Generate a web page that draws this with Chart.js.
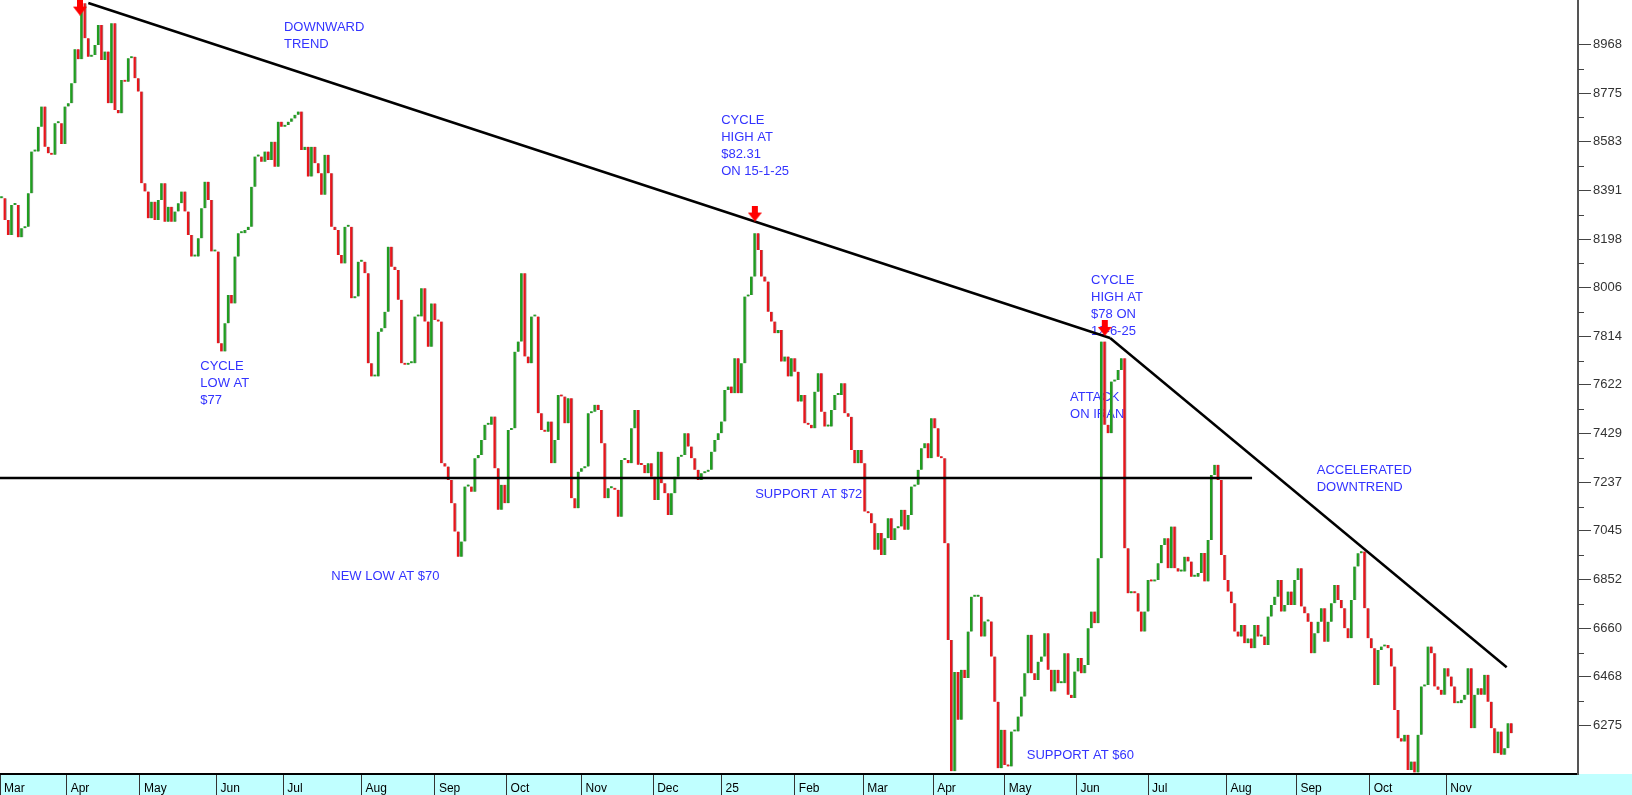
<!DOCTYPE html>
<html>
<head>
<meta charset="utf-8">
<script src="https://cdn.jsdelivr.net/npm/chart.js@4.4.1/dist/chart.umd.min.js"></script>
<style>
  html, body { margin: 0; padding: 0; background: #fff; }
  canvas { display: block; }
</style>
</head>
<body>
<canvas id="graficoPreco" width="1632" height="795" style="width:1632px;height:795px"></canvas>
<script>
// fechamentos diarios (escala do eixo: 8968 = $89.68)
const fechMarAgo24 = [
  8359, 8274, 8214, 8333, 8333, 8205, 8241, 8247, 8379, 8544,
  8544, 8642, 8722, 8563, 8537, 8531, 8656, 8656, 8574, 8722,
  8735, 8814, 8948, 8909, 9130, 8992, 8919, 8926, 8965, 9044,
  8906, 8939, 8735, 9051, 8708, 8695, 8827, 8820, 8913, 8919,
  8834, 8781, 8419, 8386, 8280, 8346, 8274, 8353, 8419, 8267,
  8326, 8267, 8307, 8340, 8386, 8307, 8214, 8129, 8129, 8201,
  8320, 8425, 8353, 8149, 8149, 7786, 7754, 7865, 7977, 7944,
  8129, 8221, 8221, 8234, 8247, 8405, 8524, 8524, 8504, 8544,
  8511, 8583, 8484, 8662, 8642, 8649, 8662, 8675, 8689, 8702,
  8550, 8563, 8445, 8563, 8498, 8458, 8373, 8531, 8458
];
const fechAgoDez24 = [
  8247, 8234, 8135, 8102, 8247, 8247, 7964, 7971, 8109, 8109,
  8063, 7707, 7655, 7655, 7832, 7846, 7911, 8168, 8089, 8076,
  7958, 7707, 7701, 7707, 7707, 7892, 7892, 8004, 7872, 7773,
  7944, 7878, 7872, 7312, 7299, 7246, 7154, 7042, 6943, 7003,
  7220, 7220, 7200, 7332, 7345, 7404, 7464, 7464, 7497, 7292,
  7128, 7227, 7154, 7444, 7450, 7753, 7793, 8063, 7734, 7707,
  7892, 7892, 7510, 7444, 7437, 7477, 7312, 7404, 7582, 7576,
  7470, 7569, 7174, 7134, 7279, 7292, 7299, 7510, 7516, 7543,
  7523, 7391, 7174, 7213, 7213, 7207, 7101, 7325, 7325, 7312,
  7450, 7523, 7306
];
const fechDezAbr25 = [
  7305, 7273, 7312, 7259, 7167, 7358, 7233, 7194, 7108, 7194,
  7259, 7338, 7345, 7431, 7378, 7332, 7286, 7246, 7273, 7279,
  7286, 7358, 7404, 7431, 7477, 7602, 7615, 7589, 7727, 7589,
  7707, 7971, 7977, 8050, 8221, 8155, 8050, 8030, 7911, 7872,
  7826, 7839, 7714, 7734, 7655, 7727, 7674, 7556, 7582, 7470,
  7464, 7450, 7595, 7668, 7516, 7457, 7457, 7523, 7582, 7582,
  7628, 7510, 7496, 7365, 7312, 7365, 7312, 7121, 7115, 7075,
  6970, 7036, 6950, 7016, 7095, 7009, 7055, 7062, 7128, 7049,
  7108, 7220, 7227, 7286, 7371, 7391, 7332, 7490, 7450, 7338,
  7332, 6996, 6614, 6095, 6487, 6298
];
const fechAbrAgo25 = [
  6496, 6463, 6647, 6785, 6785, 6785, 6627, 6687, 6687, 6548,
  6370, 6107, 6259, 6120, 6114, 6252, 6252, 6311, 6390, 6482,
  6634, 6482, 6456, 6528, 6548, 6640, 6496, 6410, 6496, 6443,
  6443, 6561, 6397, 6384, 6489, 6542, 6482, 6515, 6660, 6726,
  6680, 6937, 7793, 7464, 7431, 7635, 7641, 7681, 7727, 6976,
  6798, 6805, 6798, 6726, 6647, 6726, 6851, 6845, 6851, 6917,
  6989, 7016, 6897, 7062, 6897, 6884, 6884, 6943, 6924, 6864,
  6864, 6878, 6957, 6845, 7009, 7266, 7306, 7246, 6950, 6851,
  6805, 6759, 6647, 6627, 6673, 6601, 6620
];
const fechAgoNov25 = [
  6581, 6673, 6627, 6627, 6594, 6706, 6752, 6785, 6851, 6726,
  6752, 6805, 6752, 6851, 6897, 6746, 6719, 6686, 6561, 6640,
  6686, 6739, 6607, 6686, 6759, 6831, 6772, 6739, 6660, 6621,
  6772, 6904, 6956, 6963, 6739, 6621, 6581, 6436, 6574, 6588,
  6594, 6581, 6509, 6337, 6225, 6212, 6239, 6100, 6133, 6090,
  6239, 6430, 6436, 6588, 6561, 6430, 6417, 6397, 6502, 6469,
  6430, 6364, 6364, 6377, 6397, 6502, 6265, 6397, 6423, 6397,
  6476, 6370, 6265, 6166, 6252, 6160, 6186, 6285, 6245
];

const mesesRotulos = ['Mar', 'Apr', 'May', 'Jun', 'Jul', 'Aug', 'Sep', 'Oct', 'Nov', 'Dec', '25',
  'Feb', 'Mar', 'Apr', 'May', 'Jun', 'Jul', 'Aug', 'Sep', 'Oct', 'Nov'];
const mesesInicio = [-0.5, 19.5, 41.5, 64.5, 84.5, 108, 130, 151.5, 174, 195.5, 216,
  238, 258.5, 279.5, 301, 322.5, 344, 367.5, 388.5, 410.5, 433.5];
const ticksY = [8968, 8775, 8583, 8391, 8198, 8006, 7814, 7622, 7429, 7237, 7045, 6852, 6660, 6468, 6275];

// linhas desenhadas no grafico (dia, valor)
const linhaTendencia = [{ x: 26, y: 9131 }, { x: 332.6, y: 7807 }];
const linhaAcelerada = [{ x: 332.6, y: 7807 }, { x: 451.6, y: 6506 }];
const linhaSuporte = [{ x: -0.5, y: 7254 }, { x: 375.2, y: 7254 }];
const setas = [{ x: 23.5, y: 9113 }, { x: 226, y: 8299 }, { x: 331, y: 7847 }];

const notas = [
  { d: 84.7, v: 9019, linhas: ['DOWNWARD', 'TREND'] },
  { d: 215.9, v: 8651, linhas: ['CYCLE', 'HIGH AT', '$82.31', 'ON 15-1-25'] },
  { d: 59.6, v: 7682, linhas: ['CYCLE', 'LOW AT', '$77'] },
  { d: 98.9, v: 6850, linhas: ['NEW LOW AT $70'] },
  { d: 226.1, v: 7176, linhas: ['SUPPORT AT $72'] },
  { d: 326.9, v: 8022, linhas: ['CYCLE', 'HIGH AT', '$78 ON', '12-6-25'] },
  { d: 320.6, v: 7558, linhas: ['ATTACK', 'ON IRAN'] },
  { d: 307.6, v: 6142, linhas: ['SUPPORT AT $60'] },
  { d: 394.6, v: 7268, linhas: ['ACCELERATED', 'DOWNTREND'] }
];

const fechamentos = [].concat(fechMarAgo24, fechAgoDez24, fechDezAbr25, fechAbrAgo25, fechAgoNov25);

const barras = fechamentos.map((v, i) => ({ x: i, y: [i ? fechamentos[i - 1] : v, v] }));
const coresBarras = fechamentos.map((v, i) => (i && v < fechamentos[i - 1]) ? '#e8151b' : '#1f9e1f');

function criarSeta() {
  const c = document.createElement('canvas');
  c.width = 14; c.height = 16;
  const g = c.getContext('2d');
  g.fillStyle = '#ff0000';
  g.fillRect(4, 0, 6, 8);
  g.beginPath();
  g.moveTo(0, 7); g.lineTo(14, 7); g.lineTo(7, 16);
  g.closePath();
  g.fill();
  return c;
}

function semPadding(s) {
  s.paddingLeft = 0;
  s.paddingRight = 0;
  s.paddingTop = 0;
  s.paddingBottom = 0;
}

const fundo = {
  id: 'fundo',
  beforeDraw(chart) {
    const { ctx, width, height, chartArea } = chart;
    ctx.save();
    ctx.fillStyle = '#ffffff';
    ctx.fillRect(0, 0, width, height);
    ctx.fillStyle = '#c0ffff';
    ctx.fillRect(0, chartArea.bottom, width, height - chartArea.bottom);
    ctx.restore();
  }
};

const tracosMenores = {
  id: 'tracosMenores',
  afterDraw(chart) {
    const eixo = chart.scales.y;
    const ctx = chart.ctx;
    ctx.save();
    ctx.strokeStyle = '#444';
    ctx.lineWidth = 1;
    for (let i = 0; i < ticksY.length - 1; i++) {
      const py = Math.round(eixo.getPixelForValue((ticksY[i] + ticksY[i + 1]) / 2)) + 0.5;
      ctx.beginPath();
      ctx.moveTo(eixo.left, py);
      ctx.lineTo(eixo.left + 6, py);
      ctx.stroke();
    }
    ctx.restore();
  }
};

const textos = {
  id: 'textos',
  beforeDatasetsDraw(chart) {
    const ctx = chart.ctx;
    const ex = chart.scales.x, ey = chart.scales.y;
    ctx.save();
    ctx.fillStyle = '#3333ff';
    ctx.font = '13px "Liberation Sans", Arial, sans-serif';
    ctx.textBaseline = 'alphabetic';
    ctx.textAlign = 'left';
    notas.forEach((n) => {
      const px = ex.getPixelForValue(n.d);
      const py = ey.getPixelForValue(n.v);
      n.linhas.forEach((t, k) => ctx.fillText(t, px, py + k * 17));
    });
    ctx.restore();
  }
};

const idGrafico = document.getElementById('graficoPreco').getContext('2d');

const graficoClasse = new Chart(idGrafico, {
  type: 'bar',
  data: {
    datasets: [
      {
        type: 'line',
        data: setas,
        showLine: false,
        pointStyle: criarSeta(),
        pointRadius: 8,
        clip: false,
        order: 0
      },
      {
        type: 'line',
        data: linhaTendencia,
        borderColor: '#000',
        borderWidth: 2.5,
        pointRadius: 0,
        order: 1
      },
      {
        type: 'line',
        data: linhaAcelerada,
        borderColor: '#000',
        borderWidth: 2.5,
        pointRadius: 0,
        order: 1
      },
      {
        type: 'line',
        data: linhaSuporte,
        borderColor: '#000',
        borderWidth: 2.5,
        pointRadius: 0,
        order: 1
      },
      {
        type: 'bar',
        data: barras,
        backgroundColor: coresBarras,
        borderColor: '#9a9a9a',
        borderWidth: { top: 0, right: 1, bottom: 0, left: 0 },
        borderSkipped: false,
        barThickness: 3,
        minBarLength: 2,
        order: 2
      }
    ]
  },
  options: {
    responsive: false,
    animation: false,
    events: [],
    layout: { padding: 0, autoPadding: false },
    plugins: {
      legend: { display: false },
      tooltip: { enabled: false }
    },
    scales: {
      x: {
        type: 'linear',
        min: -0.5,
        max: 473,
        offset: false,
        grid: { offset: false, drawOnChartArea: false, drawTicks: true, tickLength: 21, color: '#333', lineWidth: 1 },
        border: { display: true, color: '#000', width: 2 },
        ticks: {
          autoSkip: false,
          maxRotation: 0,
          align: 'start',
          labelOffset: 4,
          padding: -14,
          color: '#000',
          font: { family: 'Liberation Sans', size: 12 },
          callback: (v, i) => mesesRotulos[i]
        },
        afterBuildTicks: (s) => { s.ticks = mesesInicio.map((v) => ({ value: v })); },
        afterFit: (s) => { s.height = 21; semPadding(s); }
      },
      y: {
        type: 'linear',
        position: 'right',
        min: 6084,
        max: 9143,
        grid: { drawOnChartArea: false, tickLength: 13, color: '#444' },
        border: { display: true, color: '#555', width: 2 },
        ticks: {
          autoSkip: false,
          padding: 2,
          color: '#333',
          font: { family: 'Liberation Sans', size: 13 },
          callback: (v) => String(v)
        },
        afterBuildTicks: (s) => { s.ticks = ticksY.map((v) => ({ value: v })); },
        afterFit: (s) => { s.width = 54; semPadding(s); }
      }
    }
  },
  plugins: [fundo, tracosMenores, textos]
});
</script>
</body>
</html>
